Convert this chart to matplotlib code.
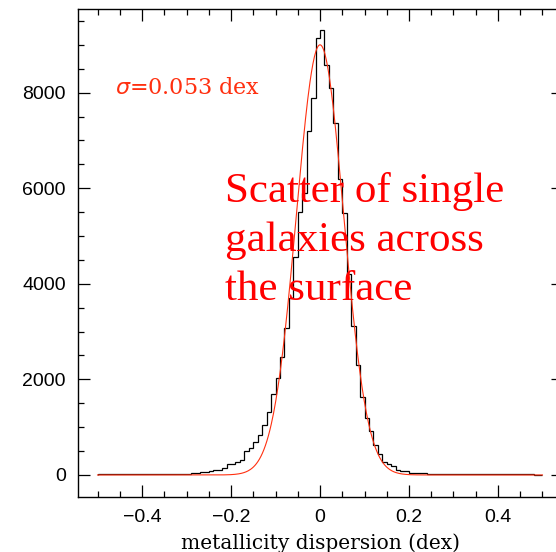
import numpy as np
import matplotlib
matplotlib.use('Agg')
import matplotlib.pyplot as plt
from matplotlib.ticker import MultipleLocator, FuncFormatter

# 直方图: 0.01 dex 一个 bin, 从 -0.5 到 0.5
bin_edges = np.linspace(-0.5, 0.5, 101)
counts = [
    # -0.50 .. -0.41
    12, 12, 13, 13, 14, 14, 15, 15, 16, 16,
    # -0.40 .. -0.31
    17, 18, 18, 19, 20, 21, 22, 24, 26, 28,
    # -0.30 .. -0.21
    30, 42, 42, 54, 54, 75, 111, 111, 147, 230,
    # -0.20 .. -0.11
    230, 272, 320, 494, 565, 687, 833, 1043, 1311, 1696,
    # -0.10 .. -0.01
    2031, 2471, 3070, 3706, 4565, 5495, 5900, 7200, 7895, 9150,
    # 0.00 .. 0.09
    9300, 8570, 8105, 7365, 6200, 5490, 4200, 3120, 2300, 1640,
    # 0.10 .. 0.19
    1190, 920, 630, 440, 280, 225, 180, 110, 85, 85,
    # 0.20 .. 0.29
    50, 50, 38, 38, 25, 25, 24, 23, 22, 21,
    # 0.30 .. 0.39
    20, 19, 18, 17, 16, 15, 15, 14, 14, 13,
    # 0.40 .. 0.49
    13, 12, 12, 11, 11, 10, 10, 10, 9, 9,
]

# 高斯拟合参数
fit_amp = 9000
fit_mu = 0.0
fit_sigma = 0.053

x_ticks = [-0.4, -0.2, 0, 0.2, 0.4]
y_ticks = [0, 2000, 4000, 6000, 8000]

fit_color = '#ff3010'

fig = plt.figure(figsize=(5.56, 5.52), dpi=100)
ax = fig.add_axes([0.1394, 0.0991, 0.8723, 0.8851])

# 直方图 (阶梯线)
ax.stairs(counts, bin_edges, color='black', linewidth=0.9)

# 拟合曲线
xf = np.linspace(bin_edges[0], bin_edges[-1], 600)
ax.plot(xf, fit_amp * np.exp(-0.5 * ((xf - fit_mu) / fit_sigma) ** 2),
        color=fit_color, linewidth=0.8)

# 坐标轴
ax.set_xlim(-0.545, 0.545)
ax.set_ylim(-467, 9755)
ax.set_xticks(x_ticks)
ax.set_yticks(y_ticks)
ax.xaxis.set_minor_locator(MultipleLocator(0.05))
ax.yaxis.set_minor_locator(MultipleLocator(500))
ax.xaxis.set_major_formatter(FuncFormatter(lambda v, p: f'{v:g}'.replace('-', '\u2212')))
ax.tick_params(which='both', direction='in', top=True, right=True, width=0.9, color='black')
ax.tick_params(which='major', length=8.6, pad=8.5)
ax.tick_params(which='minor', length=4.3)
for lab in ax.get_xticklabels() + ax.get_yticklabels():
    lab.set_fontfamily('Liberation Sans')
    lab.set_fontsize(14)
for sp in ax.spines.values():
    sp.set_linewidth(1.0)

ax.set_xlabel('metallicity dispersion (dex)', fontsize=14.5, family='DejaVu Serif', labelpad=5)

# 注释文字
ax.text(-0.46, 8100, r'$\sigma$=0.053 dex', color=fit_color, fontsize=16,
        family='DejaVu Serif', va='center', ha='left')
fig.text(225 / 556, 1 - 300 / 552, 'Scatter of single\ngalaxies across\nthe surface',
         color='red', fontsize=31, family='Liberation Serif', ha='left', va='baseline',
         linespacing=1.35)

fig.savefig('out.png', dpi=100)
